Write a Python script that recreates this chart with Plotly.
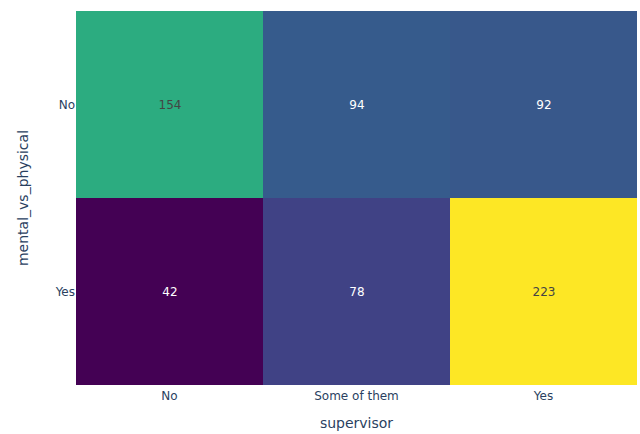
import plotly.graph_objects as go

supervisor = ["No", "Some of them", "Yes"]
mental_vs_physical = ["No", "Yes"]
counts = [
    [154, 94, 92],
    [42, 78, 223],
]

fig = go.Figure(
    go.Heatmap(
        x=supervisor,
        y=mental_vs_physical,
        z=counts,
        colorscale="Viridis",
        showscale=False,
        texttemplate="%{z}",
        textfont=dict(size=12),
        hovertemplate="supervisor: %{x}<br>mental_vs_physical: %{y}<br>count: %{z}<extra></extra>",
    )
)

fig.update_layout(
    width=640,
    height=434,
    margin=dict(l=76, r=3, t=11, b=49),
    paper_bgcolor="white",
    plot_bgcolor="white",
    font=dict(family="Verdana, DejaVu Sans, sans-serif", color="#2a3f5f", size=12),
    xaxis=dict(title=dict(text="supervisor", font=dict(size=14), standoff=16),
               ticklabelstandoff=2, showgrid=False, zeroline=False, ticks="", automargin=False),
    yaxis=dict(title=dict(text="mental_vs_physical", font=dict(size=14), standoff=22),
               autorange="reversed", showgrid=False, zeroline=False, ticks="", automargin=False),
)

fig.write_html("out.html")
